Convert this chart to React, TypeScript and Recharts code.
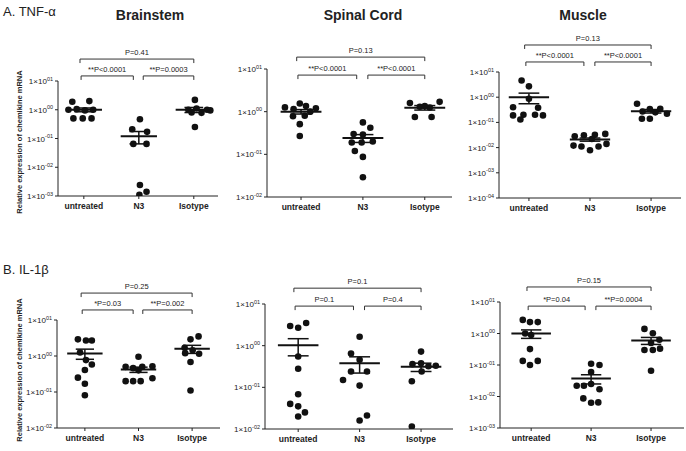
import React from 'react';
import { ScatterChart, Scatter, XAxis, YAxis, ReferenceLine } from 'recharts';

const groups = ['untreated', 'N3', 'Isotype'];
const font = 'Liberation Sans, Arial, sans-serif';

// A. TNF-α — Brainstem
const tnfBrainstemValues = [
  [1.9, 2.0, 1.0, 1.05, 0.95, 1.0, 0.5, 0.5, 0.5],
  [0.47, 0.21, 0.17, 0.065, 0.065, 0.0024, 0.0014, 0.0011],
  [2.2, 1.0, 1.1, 1.0, 0.8, 0.78, 0.95, 0.25],
];
const tnfBrainstemDx = [
  [-0.21, 0.1, -0.28, -0.13, 0.02, 0.17, -0.19, -0.02, 0.14],
  [0.02, -0.12, 0.15, -0.1, 0.14, 0.02, 0.14, 0.01],
  [0.02, -0.1, 0.05, 0.24, -0.04, 0.14, 0.3, 0.02],
];
const tnfBrainstemMean = [1.0, 0.12, 1.0];
const tnfBrainstemSem = [0.15, 0.055, 0.2];
const tnfBrainstemP = ['**P<0.0001', '**P=0.0003', 'P=0.41'];

// A. TNF-α — Spinal Cord
const tnfSpinalValues = [
  [1.26, 1.55, 1.35, 1.2, 1.15, 1.0, 0.78, 0.8, 0.51, 0.27],
  [0.56, 0.42, 0.3, 0.29, 0.2, 0.19, 0.19, 0.12, 0.087, 0.029],
  [1.6, 1.7, 1.3, 1.25, 1.35, 0.75, 0.75],
];
const tnfSpinalDx = [
  [-0.26, -0.02, 0.08, 0.24, -0.12, 0.15, -0.13, 0.06, -0.02, -0.02],
  [0, 0.12, -0.15, 0, 0.16, -0.02, -0.18, -0.13, 0, 0],
  [-0.24, 0.24, -0.08, 0.08, 0, -0.16, 0.11],
];
const tnfSpinalMean = [1.0, 0.24, 1.24];
const tnfSpinalSem = [0.12, 0.05, 0.15];
const tnfSpinalP = ['**P<0.0001', '**P<0.0001', 'P=0.13'];

// A. TNF-α — Muscle
const tnfMuscleValues = [
  [4.6, 2.7, 0.87, 0.4, 0.38, 0.19, 0.2, 0.2, 0.19, 0.13],
  [0.028, 0.031, 0.032, 0.035, 0.022, 0.011, 0.012, 0.0078, 0.011, 0.014],
  [0.55, 0.34, 0.35, 0.27, 0.25, 0.22, 0.14, 0.14],
];
const tnfMuscleDx = [
  [-0.12, 0, 0, -0.26, 0.15, -0.26, -0.09, 0.1, 0.23, -0.14],
  [-0.25, -0.1, 0.08, 0.25, 0.03, -0.14, -0.27, 0, 0.14, 0.27],
  [-0.23, -0.02, 0.15, -0.14, 0.07, 0.26, -0.15, -0.02],
];
const tnfMuscleMean = [1.0, 0.021, 0.28];
const tnfMuscleSem = [0.45, 0.003, 0.045];
const tnfMuscleP = ['**P<0.0001', '**P<0.0001', 'P=0.13'];

// B. IL-1β — Brainstem
const ilBrainstemValues = [
  [2.9, 2.7, 2.7, 1.25, 0.77, 0.58, 0.41, 0.25, 0.17, 0.081],
  [0.95, 0.5, 0.46, 0.5, 0.52, 0.4, 0.2, 0.2, 0.2, 0.24],
  [3.5, 2.9, 1.7, 1.45, 1.2, 1.15, 0.68, 0.11],
];
const ilBrainstemDx = [
  [-0.13, 0.02, 0.13, -0.09, 0.02, 0.13, 0, -0.13, 0, 0],
  [0, -0.24, -0.1, 0.07, 0.26, 0, -0.24, -0.1, 0.04, 0.26],
  [0.12, -0.03, -0.14, 0.01, -0.13, 0.13, -0.03, -0.03],
];
const ilBrainstemMean = [1.18, 0.42, 1.58];
const ilBrainstemSem = [0.37, 0.07, 0.4];
const ilBrainstemP = ['*P=0.03', '**P=0.002', 'P=0.25'];

// B. IL-1β — Spinal Cord
const ilSpinalValues = [
  [2.96, 2.7, 3.5, 0.55, 0.28, 0.068, 0.04, 0.035, 0.025, 0.02],
  [1.64, 0.65, 0.46, 0.24, 0.24, 0.15, 0.11, 0.021, 0.016],
  [0.72, 0.36, 0.38, 0.32, 0.33, 0.24, 0.14, 0.0115],
];
const ilSpinalDx = [
  [-0.13, 0, 0.13, 0, 0, 0, -0.13, 0, 0.11, 0],
  [0, -0.14, 0, -0.14, 0.12, -0.27, 0, 0.12, 0],
  [0, -0.14, 0, 0.12, 0.24, 0.01, -0.15, -0.15],
];
const ilSpinalMean = [1.02, 0.38, 0.31];
const ilSpinalSem = [0.45, 0.16, 0.07];
const ilSpinalP = ['P=0.1', 'P=0.4', 'P=0.1'];

// B. IL-1β — Muscle
const ilMuscleValues = [
  [2.7, 2.3, 2.3, 1.0, 0.9, 0.32, 0.135, 0.135, 0.1],
  [0.11, 0.1, 0.06, 0.022, 0.022, 0.025, 0.017, 0.0087, 0.0063, 0.0065],
  [1.4, 1.02, 0.63, 0.5, 0.3, 0.3, 0.33, 0.066],
];
const ilMuscleDx = [
  [-0.14, -0.02, 0.11, -0.1, 0, -0.02, -0.14, 0.11, -0.02],
  [0, 0.14, 0, -0.24, -0.12, 0, 0.14, -0.13, 0, 0.12],
  [-0.11, 0.03, 0.14, 0, -0.11, 0.03, 0.15, 0],
];
const ilMuscleMean = [1.0, 0.037, 0.6];
const ilMuscleSem = [0.3, 0.012, 0.15];
const ilMuscleP = ['*P=0.04', '**P=0.0004', 'P=0.15'];

const bracketSpans = [[0.95, 1.9], [2.08, 3.0], [0.93, 3.0]];

const Dot = (p: any) => <circle cx={p.cx} cy={p.cy} r={3.3} fill="#111" />;

const expText = (v: number) => {
  const e = Math.round(Math.log10(v));
  return (e < 0 ? '-' : '') + String(Math.abs(e)).padStart(2, '0');
};

const YTick = ({ x, y, payload }: any) => (
  <text x={x} y={y} dy={3} textAnchor="end" fontSize={8} fill="#222" fontFamily={font}>
    1×10<tspan dy={-3.5} fontSize={5.5}>{expText(payload.value)}</tspan>
  </text>
);

const XTick = ({ x, y, payload }: any) => (
  <text x={x} y={y} dy={8} textAnchor="middle" fontSize={8.5} fontWeight="bold" fill="#222" fontFamily={font}>
    {groups[payload.value - 1]}
  </text>
);

const bracketShape = (text: string) => (p: any) => (
  <g>
    <path
      d={`M${p.x1},${p.y1 + 4}V${p.y1}H${p.x2}V${p.y2 + 4}`}
      fill="none"
      stroke="#333"
      strokeWidth={1}
    />
    <text x={(p.x1 + p.x2) / 2} y={p.y1 - 4} textAnchor="middle" fontSize={7.5} fill="#222" fontFamily={font}>
      {text}
    </text>
  </g>
);

type PanelProps = {
  left: number;
  top: number;
  width: number;
  height: number;
  mTop: number;
  mRight: number;
  yWidth: number;
  xDomain: number[];
  yDomain: number[];
  values: number[][];
  dx: number[][];
  mean: number[];
  sem: number[];
  pLabels: string[];
  bracketLevels: number[];
};

const Panel = (props: PanelProps) => {
  const { values, dx, mean, sem, pLabels, bracketLevels, yDomain } = props;
  const points = values.flatMap((arr, g) => arr.map((v, i) => ({ x: g + 1 + dx[g][i], y: v })));
  const ticks: number[] = [];
  for (let e = Math.round(Math.log10(yDomain[0])); e <= Math.round(Math.log10(yDomain[1])); e++) ticks.push(Math.pow(10, e));
  const levels = [bracketLevels[0], bracketLevels[0], bracketLevels[1]];
  return (
    <div style={{ position: 'absolute', left: props.left, top: props.top }}>
      <ScatterChart
        width={props.width}
        height={props.height}
        margin={{ top: props.mTop, right: props.mRight, bottom: 0, left: 0 }}
      >
        <XAxis
          type="number"
          dataKey="x"
          domain={props.xDomain}
          ticks={[1, 2, 3]}
          allowDataOverflow
          height={20}
          tickSize={3}
          stroke="#222"
          tick={<XTick />}
        />
        <YAxis
          type="number"
          dataKey="y"
          scale="log"
          domain={yDomain}
          ticks={ticks}
          allowDataOverflow
          width={props.yWidth}
          tickSize={3}
          stroke="#222"
          tick={<YTick />}
        />
        <Scatter data={points} shape={Dot} isAnimationActive={false} />
        {mean.map((m, g) => {
          const c = g + 1;
          const s = sem[g];
          return (
            <React.Fragment key={'m' + g}>
              <ReferenceLine segment={[{ x: c - 0.33, y: m }, { x: c + 0.33, y: m }]} stroke="#111" strokeWidth={2} />
              <ReferenceLine segment={[{ x: c, y: m - s }, { x: c, y: m + s }]} stroke="#111" strokeWidth={1.5} />
              <ReferenceLine segment={[{ x: c - 0.17, y: m + s }, { x: c + 0.17, y: m + s }]} stroke="#111" strokeWidth={1.5} />
              <ReferenceLine segment={[{ x: c - 0.17, y: m - s }, { x: c + 0.17, y: m - s }]} stroke="#111" strokeWidth={1.5} />
            </React.Fragment>
          );
        })}
        {bracketSpans.map((sp, i) => (
          <ReferenceLine
            key={'b' + i}
            segment={[{ x: sp[0], y: levels[i] }, { x: sp[1], y: levels[i] }]}
            ifOverflow="visible"
            shape={bracketShape(pLabels[i])}
          />
        ))}
      </ScatterChart>
    </div>
  );
};

const textStyle: React.CSSProperties = { position: 'absolute', fontFamily: font, color: '#222', whiteSpace: 'nowrap' };

const Title = ({ cx, cy, children }: any) => (
  <div style={{ ...textStyle, left: cx - 60, top: cy - 9, width: 120, height: 18, lineHeight: '18px', textAlign: 'center', fontSize: 14, fontWeight: 'bold' }}>
    {children}
  </div>
);

const YLabel = ({ cx, cy }: any) => (
  <div
    style={{
      ...textStyle,
      left: cx - 100,
      top: cy - 6,
      width: 200,
      height: 12,
      lineHeight: '12px',
      textAlign: 'center',
      fontSize: 7.5,
      fontWeight: 'bold',
      transform: 'rotate(-90deg)',
    }}
  >
    Relative expression of chemikine mRNA
  </div>
);

export default function App() {
  return (
    <div style={{ position: 'absolute', left: 0, top: 0, width: 686, height: 451, background: '#fff', overflow: 'hidden' }}>
      <div style={{ ...textStyle, left: 3, top: 3, fontSize: 13, lineHeight: '18px' }}>A. TNF-α</div>
      <div style={{ ...textStyle, left: 3, top: 261, fontSize: 13, lineHeight: '18px' }}>B. IL-1β</div>
      <Title cx={150} cy={15}>Brainstem</Title>
      <Title cx={363} cy={15}>Spinal Cord</Title>
      <Title cx={583} cy={15}>Muscle</Title>
      <YLabel cx={20} cy={142} />
      <YLabel cx={20} cy={370} />

      <Panel left={0} top={36} width={222} height={180} mTop={45} mRight={4} yWidth={58}
        xDomain={[0.53, 3.44]} yDomain={[1e-3, 10]}
        values={tnfBrainstemValues} dx={tnfBrainstemDx} mean={tnfBrainstemMean} sem={tnfBrainstemSem}
        pLabels={tnfBrainstemP} bracketLevels={[15, 58]} />
      <Panel left={222} top={30} width={234} height={187} mTop={39} mRight={4} yWidth={45}
        xDomain={[0.45, 3.44]} yDomain={[1e-2, 10]}
        values={tnfSpinalValues} dx={tnfSpinalDx} mean={tnfSpinalMean} sem={tnfSpinalSem}
        pLabels={tnfSpinalP} bracketLevels={[7.2, 19]} />
      <Panel left={456} top={28} width={230} height={190} mTop={44} mRight={5} yWidth={43}
        xDomain={[0.51, 3.49]} yDomain={[1e-4, 10]}
        values={tnfMuscleValues} dx={tnfMuscleDx} mean={tnfMuscleMean} sem={tnfMuscleSem}
        pLabels={tnfMuscleP} bracketLevels={[25, 118]} />

      <Panel left={0} top={276} width={224} height={172} mTop={44} mRight={4} yWidth={57}
        xDomain={[0.48, 3.52]} yDomain={[1e-2, 10]}
        values={ilBrainstemValues} dx={ilBrainstemDx} mean={ilBrainstemMean} sem={ilBrainstemSem}
        pLabels={ilBrainstemP} bracketLevels={[19, 56]} />
      <Panel left={224} top={270} width={232} height={179} mTop={34} mRight={3} yWidth={41}
        xDomain={[0.46, 3.52]} yDomain={[1e-2, 10]}
        values={ilSpinalValues} dx={ilSpinalDx} mean={ilSpinalMean} sem={ilSpinalSem}
        pLabels={ilSpinalP} bracketLevels={[8.9, 24]} />
      <Panel left={456} top={268} width={230} height={180} mTop={34} mRight={2} yWidth={44}
        xDomain={[0.48, 3.55]} yDomain={[1e-3, 10]}
        values={ilMuscleValues} dx={ilMuscleDx} mean={ilMuscleMean} sem={ilMuscleSem}
        pLabels={ilMuscleP} bracketLevels={[7.4, 30]} />
    </div>
  );
}
